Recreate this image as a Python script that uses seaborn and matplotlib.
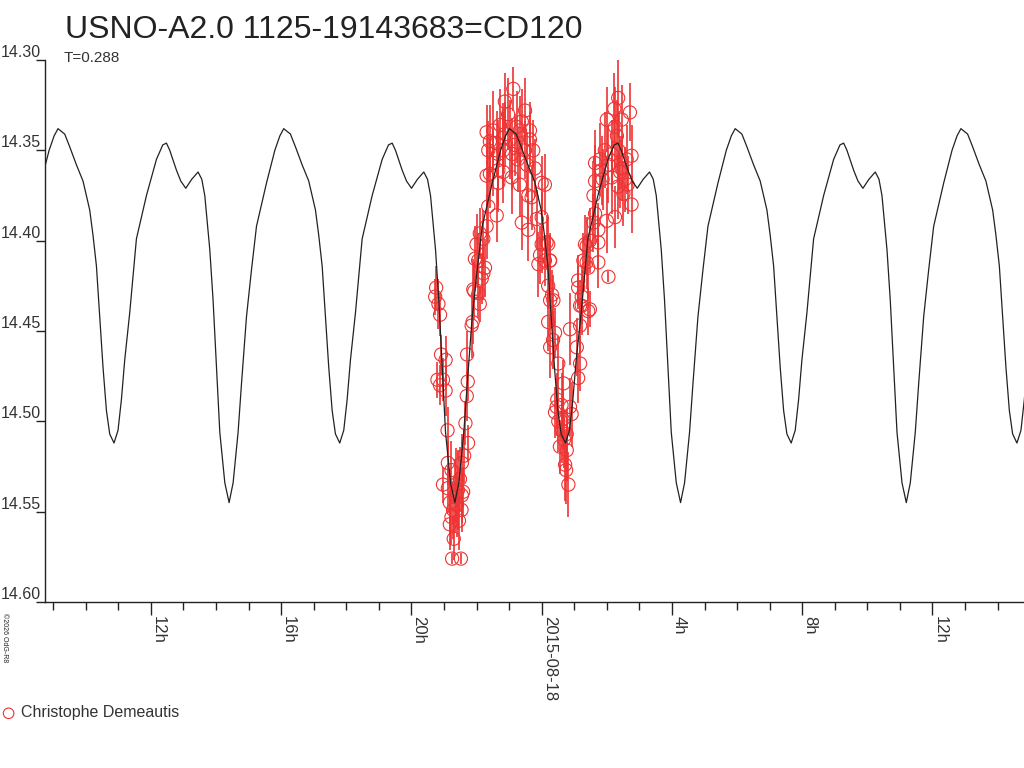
import numpy as np
import matplotlib
matplotlib.use("Agg")
import matplotlib.pyplot as plt
import seaborn as sns

# model light curve, one cycle (hours after a maximum, magnitude)
model_offset_h = [0.000, 0.206, 0.359, 0.565, 0.768, 0.974, 1.075, 1.180, 1.281, 1.382,
                  1.487, 1.588, 1.720, 1.843, 1.947, 2.049, 2.202, 2.408, 2.716, 3.023,
                  3.217, 3.330, 3.432, 3.637, 3.770, 3.923, 4.107, 4.301, 4.415, 4.507,
                  4.661, 4.762, 4.867, 4.968, 5.122, 5.254, 5.377, 5.530, 5.635, 5.788,
                  5.942, 6.095, 6.403, 6.658, 6.812]
model_mag = [14.338, 14.341, 14.348, 14.358, 14.367, 14.383, 14.397, 14.414, 14.442, 14.470,
             14.494, 14.507, 14.512, 14.505, 14.488, 14.466, 14.440, 14.399, 14.375, 14.355,
             14.347, 14.346, 14.350, 14.361, 14.367, 14.371, 14.366, 14.362, 14.366, 14.375,
             14.405, 14.433, 14.470, 14.506, 14.534, 14.545, 14.534, 14.506, 14.479, 14.442,
             14.416, 14.392, 14.368, 14.350, 14.342]
period_h = 6.931
epoch_h = 9.149   # a maximum on 2015-08-17, hours

# observations (hours since 2015-08-17 00:00)
obs_hours = [20.76, 20.73, 20.83, 20.88, 20.91, 21.05, 20.80, 20.97, 20.88, 21.05,
             21.11, 21.12, 21.23, 20.97, 21.12, 21.18, 21.28, 21.23, 21.18, 21.25,
             21.52, 21.34, 21.40, 21.46, 21.37, 21.49, 21.55, 21.43, 21.30, 21.59,
             21.54, 21.55, 21.62, 21.74, 21.66, 21.70, 21.73, 21.71, 21.85, 21.88,
             22.10, 21.93, 22.06, 22.21, 21.90, 22.05, 21.95, 22.26, 22.16, 22.00,
             22.21, 22.31, 22.10, 22.62, 22.36, 22.31, 22.41, 22.67, 22.51, 22.67,
             22.36, 22.41, 22.31, 22.62, 22.51, 22.82, 22.87, 23.13, 23.49, 22.97,
             23.23, 23.39, 23.64, 23.64, 22.82, 23.08, 23.33, 23.79, 24.00, 24.10,
             22.72, 22.87, 23.03, 23.18, 23.33, 23.49, 23.09, 23.27, 22.66, 22.82,
             23.55, 23.74, 23.59, 23.69, 23.39, 23.59, 23.85, 24.00,
             23.95, 24.10, 24.25, 23.90, 24.15, 24.20, 24.36, 24.00, 24.20, 24.26,
             24.26, 24.20, 24.41, 24.26, 24.51, 24.67, 24.46, 24.61, 24.41, 24.51,
             24.56, 24.77, 24.77, 24.82, 24.72, 24.32, 24.35, 24.48, 24.65, 24.62,
             24.75, 24.69,
             24.87, 24.92, 25.18, 25.12, 25.08, 24.87, 25.18, 25.23, 25.12, 25.23,
             25.38, 25.38, 25.43, 25.12, 25.18, 25.48, 25.28, 25.43, 25.74, 26.05,
             25.33, 25.48, 25.74, 25.64, 25.59, 26.00, 25.74, 26.25, 25.59, 26.51,
             26.76, 26.35, 25.64, 25.84, 26.05, 26.46, 26.15, 26.76, 26.61, 26.36,
             25.64, 26.31, 26.25, 26.46, 26.23, 26.00, 26.71, 26.35, 25.79, 25.94,
             26.16, 26.41, 26.56, 25.87, 26.64]
obs_mag = [14.426, 14.431, 14.435, 14.441, 14.463, 14.466, 14.477, 14.477, 14.480, 14.483,
           14.505, 14.523, 14.527, 14.535, 14.537, 14.545, 14.549, 14.553, 14.557, 14.576,
           14.576, 14.541, 14.546, 14.555, 14.535, 14.532, 14.541, 14.538, 14.565, 14.539,
           14.549, 14.523, 14.519, 14.512, 14.501, 14.486, 14.478, 14.463, 14.447, 14.445,
           14.435, 14.428, 14.429, 14.418, 14.427, 14.411, 14.410, 14.415, 14.421, 14.402,
           14.399, 14.392, 14.396, 14.386, 14.381, 14.364, 14.363, 14.368, 14.357, 14.361,
           14.350, 14.345, 14.340, 14.346, 14.339, 14.343, 14.323, 14.316, 14.328, 14.330,
           14.337, 14.334, 14.339, 14.344, 14.362, 14.365, 14.369, 14.360, 14.368, 14.369,
           14.336, 14.341, 14.344, 14.347, 14.339, 14.350, 14.352, 14.355, 14.352, 14.350,
           14.358, 14.350, 14.375, 14.376, 14.390, 14.394, 14.388, 14.387,
           14.408, 14.411, 14.411, 14.413, 14.401, 14.425, 14.433, 14.402, 14.402, 14.411,
           14.433, 14.445, 14.451, 14.459, 14.468, 14.479, 14.492, 14.491, 14.495, 14.500,
           14.514, 14.507, 14.516, 14.535, 14.524, 14.430, 14.455, 14.488, 14.499, 14.505,
           14.527, 14.510,
           14.492, 14.496, 14.468, 14.476, 14.459, 14.449, 14.447, 14.436, 14.422, 14.431,
           14.412, 14.403, 14.439, 14.426, 14.436, 14.438, 14.411, 14.415, 14.412, 14.420,
           14.402, 14.400, 14.401, 14.385, 14.390, 14.389, 14.394, 14.387, 14.375, 14.374,
           14.380, 14.370, 14.367, 14.361, 14.358, 14.360, 14.365, 14.353, 14.355, 14.350,
           14.357, 14.342, 14.337, 14.333, 14.327, 14.333, 14.329, 14.321, 14.355, 14.350,
           14.352, 14.362, 14.366, 14.366, 14.369]
obs_err = [0.012, 0.010, 0.014, 0.012, 0.011, 0.013, 0.010, 0.012, 0.011, 0.014,
           0.013, 0.012, 0.016, 0.010, 0.014, 0.018, 0.016, 0.015, 0.014, 0.003,
           0.003, 0.020, 0.018, 0.016, 0.020, 0.018, 0.015, 0.022, 0.012, 0.014,
           0.012, 0.016, 0.015, 0.010, 0.012, 0.014, 0.011, 0.013, 0.018, 0.012,
           0.010, 0.016, 0.014, 0.015, 0.017, 0.015, 0.018, 0.016, 0.014, 0.017,
           0.016, 0.018, 0.014, 0.015, 0.020, 0.017, 0.019, 0.016, 0.018, 0.020,
           0.016, 0.020, 0.015, 0.018, 0.022, 0.019, 0.016, 0.012, 0.018, 0.020,
           0.020, 0.018, 0.016, 0.015, 0.017, 0.020, 0.018, 0.016, 0.015, 0.017,
           0.020, 0.018, 0.022, 0.017, 0.019, 0.016, 0.020, 0.018, 0.019, 0.021,
           0.018, 0.017, 0.016, 0.018, 0.015, 0.017, 0.016, 0.014,
           0.016, 0.014, 0.015, 0.018, 0.015, 0.013, 0.014, 0.016, 0.015, 0.014,
           0.015, 0.016, 0.014, 0.017, 0.015, 0.013, 0.016, 0.018, 0.014, 0.017,
           0.015, 0.014, 0.017, 0.018, 0.020, 0.014, 0.016, 0.015, 0.017, 0.018,
           0.019, 0.016,
           0.016, 0.018, 0.015, 0.014, 0.016, 0.020, 0.015, 0.016, 0.014, 0.015,
           0.015, 0.016, 0.013, 0.012, 0.014, 0.010, 0.015, 0.016, 0.014, 0.003,
           0.016, 0.018, 0.015, 0.017, 0.016, 0.018, 0.015, 0.017, 0.019, 0.018,
           0.016, 0.018, 0.020, 0.019, 0.021, 0.018, 0.020, 0.017, 0.019, 0.022,
           0.018, 0.020, 0.022, 0.019, 0.020, 0.018, 0.016, 0.022, 0.020, 0.021,
           0.019, 0.020, 0.018, 0.017, 0.016]

major_hours = [12, 16, 20, 24, 28, 32, 36]
major_labels = ["12h", "16h", "20h", "2015-08-18", "4h", "8h", "12h"]
y_ticks = [14.30, 14.35, 14.40, 14.45, 14.50, 14.55, 14.60]

sns.set_style("white")
plt.rcParams['font.family'] = ['Liberation Sans', 'DejaVu Sans']

red = "#ee3333"

# repeat the one-cycle model over the plotted span
curve_t = np.concatenate([epoch_h + k * period_h + np.array(model_offset_h) for k in range(-1, 5)])
curve_m = np.tile(model_mag, 6)

fig = plt.figure(figsize=(10.24, 7.68), dpi=100)
ax = fig.add_axes([45/1024, 1 - 602/768, 979/1024, 542/768])

ax.errorbar(obs_hours, obs_mag, yerr=obs_err, fmt='none', ecolor=red, elinewidth=1.2, capsize=0, zorder=2)
sns.scatterplot(x=obs_hours, y=obs_mag, ax=ax, marker='o', s=90, facecolors='none',
                edgecolor=red, linewidth=0.8, zorder=3, label="Christophe Demeautis")
sns.lineplot(x=curve_t, y=curve_m, ax=ax, color="#222222", linewidth=0.9, estimator=None, zorder=4)

ax.set_xlim(8.75, 38.81)
ax.set_ylim(14.60, 14.30)
for s in ['top', 'right']:
    ax.spines[s].set_visible(False)
for s in ['left', 'bottom']:
    ax.spines[s].set_color('#222222')
    ax.spines[s].set_linewidth(1)

ax.set_xticks(major_hours)
ax.set_xticklabels(major_labels, rotation=-90, ha='left', va='top', fontsize=12, color='#333333')
ax.set_xticks(range(9, 39), minor=True)
ax.tick_params(axis='x', which='major', direction='out', length=9, width=1, color='#222222', pad=1, bottom=True)
ax.tick_params(axis='x', which='minor', direction='out', length=6, width=1, color='#222222', bottom=True)

ax.set_yticks(y_ticks)
ax.set_yticklabels([f"{v:.2f}" for v in y_ticks], va='bottom', fontsize=11.5, color='#333333')
ax.tick_params(axis='y', direction='out', length=6.5, width=1, color='#222222', pad=-3.5, left=True)
ax.set_xlabel("")
ax.set_ylabel("")

leg = ax.legend(loc='center left', bbox_to_anchor=(3/1024, 1 - 713/768), bbox_transform=fig.transFigure,
                frameon=False, fontsize=11.5, handlelength=0.7, handletextpad=0.4, borderpad=0, borderaxespad=0,
                markerscale=0.8)
for t in leg.get_texts():
    t.set_color('#333333')

fig.text(65/1024, 1 - 30/768, "USNO-A2.0 1125-19143683=CD120", fontsize=23, color='#222222', va='center', ha='left')
fig.text(64/1024, 1 - 58/768, "T=0.288", fontsize=11, color='#333333', va='center', ha='left')
fig.text(1/1024, 1 - 613/768, "©2026 OdG-R8", fontsize=5, rotation=-90, va='top', ha='left', color='#222222')

fig.savefig("out.png", dpi=100)
